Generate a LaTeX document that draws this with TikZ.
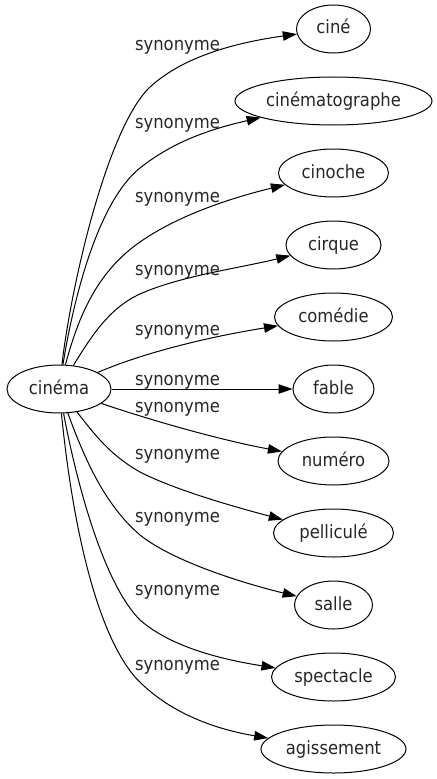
\documentclass[tikz,border=0pt]{standalone}
\usepackage{fontspec}
\setmainfont{DejaVu Sans}[FakeStretch=0.9]
\usetikzlibrary{shapes.geometric,arrows.meta}
\tikzset{
  every node/.style={font=\fontsize{18.25bp}{22bp}\selectfont, text=black!85},
  word/.style={ellipse, draw=black, line width=1bp, minimum height=48bp, inner sep=0pt, text height=10bp, text depth=0pt},
  lab/.style={anchor=base, inner sep=0pt},
  edge/.style={draw=black, line width=1bp, -{Triangle[length=14bp,width=9.5bp]}},
}
\newcommand{\wtxt}[1]{\makebox[0pt][c]{#1}}
\begin{document}
\begin{tikzpicture}[x=1bp,y=-1bp]
\useasboundingbox (0,0) rectangle (437,779);
\node[word, minimum width=104bp] (c) at (59,389) {\wtxt{cinéma}};
\node[word, minimum width=74bp] (n1) at (333.5,29) {\wtxt{ciné}};
\node[word, minimum width=197bp] (n2) at (333.5,101) {\wtxt{cinématographe}};
\node[word, minimum width=110bp] (n3) at (333.5,173) {\wtxt{cinoche}};
\node[word, minimum width=95bp] (n4) at (333.5,245) {\wtxt{cirque}};
\node[word, minimum width=118bp] (n5) at (333.5,317) {\wtxt{comédie}};
\node[word, minimum width=81bp] (n6) at (333.5,389) {\wtxt{fable}};
\node[word, minimum width=111bp] (n7) at (333.5,461) {\wtxt{numéro}};
\node[word, minimum width=120bp] (n8) at (333.5,533) {\wtxt{pelliculé}};
\node[word, minimum width=78bp] (n9) at (333.5,605) {\wtxt{salle}};
\node[word, minimum width=124bp] (n10) at (333.5,677) {\wtxt{spectacle}};
\node[word, minimum width=145bp] (n11) at (333.5,749) {\wtxt{agissement}};
\node[lab] (l1) at (177.5,51) {synonyme};
\node[lab] (l2) at (177.5,128) {synonyme};
\node[lab] (l3) at (177.5,202) {synonyme};
\node[lab] (l4) at (177.5,275.5) {synonyme};
\node[lab] (l5) at (177.5,335.5) {synonyme};
\node[lab] (l6) at (177.5,385) {synonyme};
\node[lab] (l7) at (177.5,412) {synonyme};
\node[lab] (l8) at (177.5,459) {synonyme};
\node[lab] (l9) at (177.5,522) {synonyme};
\node[lab] (l10) at (177.5,595.5) {synonyme};
\node[lab] (l11) at (177.5,670.5) {synonyme};
\draw[edge] (c) .. controls (72,280) and (108,127) .. (150,87) .. controls (185,55) and (240,42) .. (n1);
\draw[edge] (c) .. controls (75,290) and (100,200) .. (140,168) .. controls (175,140) and (215,128) .. (n2);
\draw[edge] (c) .. controls (80,310) and (100,270) .. (140,242) .. controls (180,214) and (235,197) .. (n3);
\draw[edge] (c) .. controls (92,335) and (110,307.5) .. (140,294) .. controls (180,276) and (240,268) .. (n4);
\draw[edge] (c) .. controls (150,350) and (220,335) .. (n5);
\draw[edge] (c) -- (n6);
\draw[edge] (c) .. controls (150,420) and (220,440) .. (n7);
\draw[edge] (c) .. controls (95,435) and (110,455) .. (140,472) .. controls (175,490) and (235,507) .. (n8);
\draw[edge] (c) .. controls (85,460) and (105,505) .. (140,535) .. controls (175,563) and (250,585) .. (n9);
\draw[edge] (c) .. controls (78,490) and (105,585) .. (140,620) .. controls (172,648) and (225,660) .. (n10);
\draw[edge] (c) .. controls (72,520) and (95,630) .. (135,677) .. controls (170,715) and (220,730) .. (n11);
\end{tikzpicture}
\end{document}
